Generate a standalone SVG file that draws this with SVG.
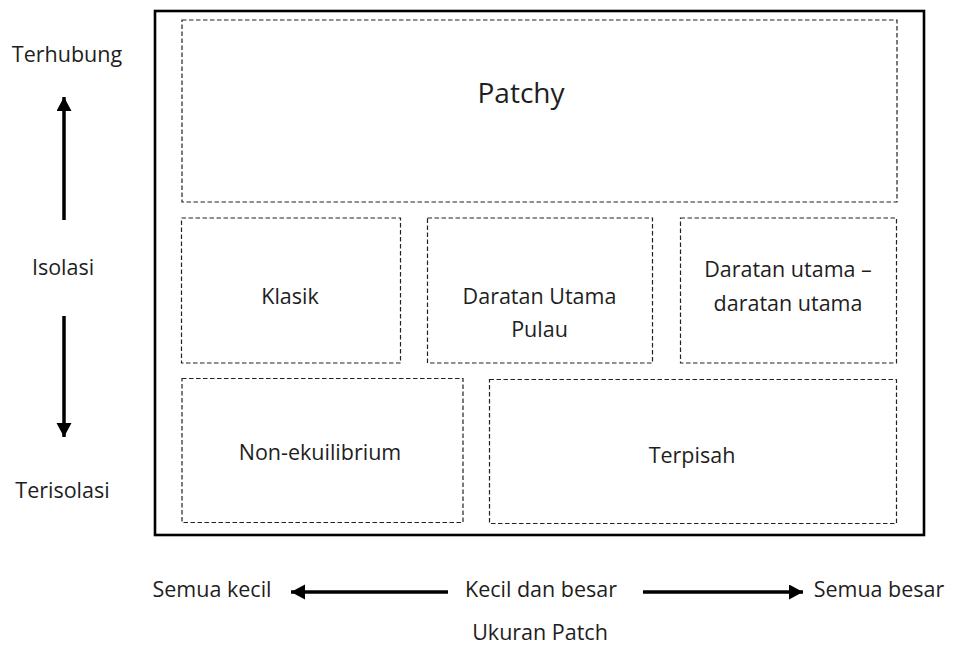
<svg xmlns="http://www.w3.org/2000/svg" width="954" height="646" viewBox="0 0 954 646">
<style>
  .box { fill: none; stroke: #222; stroke-width: 1.2; stroke-dasharray: 4.5 2.5; }
  .outer { fill: none; stroke: #000; stroke-width: 2.6; }
  .lbl { font-family: "Open Sans", "Liberation Sans", sans-serif; font-size: 21.5px; fill: #1e1e1e; text-anchor: middle; }
  .big { font-size: 28px; }
  .arr { stroke: #000; stroke-width: 3.5; fill: none; marker-end: url(#head); }
</style>
<defs>
  <marker id="head" markerUnits="userSpaceOnUse" markerWidth="16" markerHeight="16" refX="14" refY="7.5" orient="auto">
    <path d="M0,0 L14,7.5 L0,15 Z" fill="#000"/>
  </marker>
</defs>
<rect width="954" height="646" fill="#fff"/>
<g id="frame">
  <rect class="outer" x="155" y="11" width="769" height="524"/>
</g>
<g id="patchy">
  <rect class="box" x="182" y="20" width="715" height="182"/>
  <text class="lbl big" x="521" y="103">Patchy</text>
</g>
<g id="klasik">
  <rect class="box" x="181.5" y="218" width="219" height="145"/>
  <text class="lbl" x="290" y="304">Klasik</text>
</g>
<g id="daratan-utama-pulau">
  <rect class="box" x="427.5" y="218" width="225" height="145"/>
  <text class="lbl" x="539.5" y="304">Daratan Utama</text>
  <text class="lbl" x="539.5" y="337">Pulau</text>
</g>
<g id="daratan-utama-daratan-utama">
  <rect class="box" x="680.5" y="218" width="216" height="145"/>
  <text class="lbl" x="788" y="277">Daratan utama –</text>
  <text class="lbl" x="788" y="311">daratan utama</text>
</g>
<g id="non-ekuilibrium">
  <rect class="box" x="182" y="378.5" width="281" height="144"/>
  <text class="lbl" x="320" y="460">Non-ekuilibrium</text>
</g>
<g id="terpisah">
  <rect class="box" x="489.5" y="379.5" width="407" height="144"/>
  <text class="lbl" x="692" y="463">Terpisah</text>
</g>
<g id="axis-labels">
  <text class="lbl" x="67" y="62">Terhubung</text>
  <text class="lbl" x="63" y="275">Isolasi</text>
  <text class="lbl" x="62.5" y="498">Terisolasi</text>
  <text class="lbl" x="212" y="597">Semua kecil</text>
  <text class="lbl" x="541" y="597">Kecil dan besar</text>
  <text class="lbl" x="879" y="597">Semua besar</text>
  <text class="lbl" x="540" y="640">Ukuran Patch</text>
</g>
<g id="connectors">
  <line class="arr" x1="64" y1="220" x2="64" y2="97"/>
  <line class="arr" x1="64" y1="316" x2="64" y2="437"/>
  <line class="arr" x1="448" y1="592" x2="291" y2="592"/>
  <line class="arr" x1="643" y1="592" x2="803" y2="592"/>
</g>
</svg>
